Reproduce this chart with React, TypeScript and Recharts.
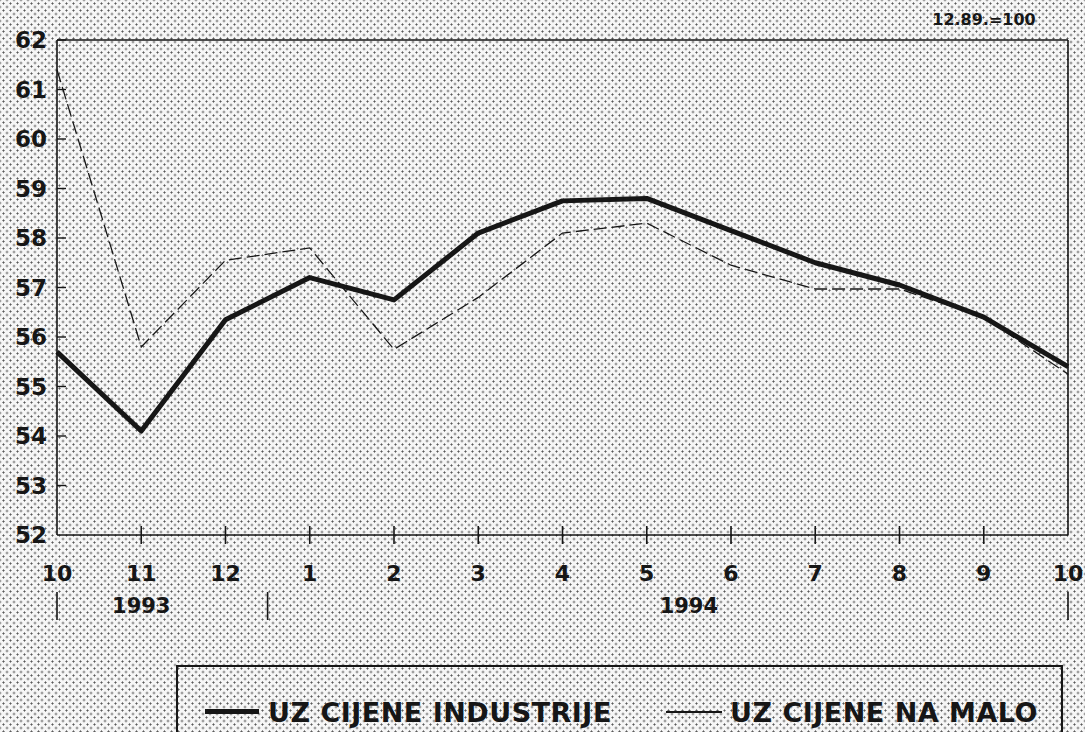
import React from "react";
import { LineChart, Line, XAxis, YAxis, ReferenceLine } from "recharts";

// months from 10/1993 to 10/1994, index 12.89 = 100
const months = ["10", "11", "12", "1", "2", "3", "4", "5", "6", "7", "8", "9", "10"];
const industry = [55.7, 54.1, 56.35, 57.2, 56.75, 58.1, 58.75, 58.8, 58.15, 57.5, 57.05, 56.4, 55.4];
const retail = [61.4, 55.8, 57.55, 57.8, 55.75, 56.8, 58.1, 58.3, 57.45, 56.97, 56.97, 56.4, 55.25];
const yTicks = [52, 53, 54, 55, 56, 57, 58, 59, 60, 61, 62];
const yearLabels = ["1993", "1994"];
const yearCenters = [1, 7.5];
const yearBreaks = [0, 2.5, 12];

const seriesNames = ["UZ CIJENE INDUSTRIJE", "UZ CIJENE NA MALO"];

const data = months.map((m, i) => ({ i, month: m, ind: industry[i], ret: retail[i] }));

const font = "'DejaVu Sans', 'Liberation Sans', Arial, sans-serif";
const ink = "#161616";

const MonthTick = (props: any) => {
  const { x, y, payload } = props;
  return (
    <g>
      {payload.value > 0 && payload.value < 12 && (
        <line x1={x} x2={x} y1={y - 9} y2={y + 9} stroke={ink} strokeWidth={1.6} />
      )}
      <text x={x} y={y + 38} textAnchor="middle" dominantBaseline="central" fontFamily={font} fontWeight="bold" fontSize={22} fill={ink}>
        {months[payload.value]}
      </text>
    </g>
  );
};

const YearTick = (props: any) => {
  const { x, y, payload } = props;
  const k = yearCenters.indexOf(payload.value);
  if (k >= 0) {
    return (
      <text x={x} y={y + 26} textAnchor="middle" dominantBaseline="central" fontFamily={font} fontWeight="bold" fontSize={21} fill={ink}>
        {yearLabels[k]}
      </text>
    );
  }
  return <line x1={x} x2={x} y1={y + 12} y2={y + 40} stroke={ink} strokeWidth={1.6} />;
};

const ValueTick = (props: any) => {
  const { x, y, payload } = props;
  return (
    <g>
      {payload.value > 52 && <line x1={x} x2={x + 9} y1={y} y2={y} stroke={ink} strokeWidth={1.4} />}
      <text x={x - 10} y={y} textAnchor="end" dominantBaseline="central" fontFamily={font} fontWeight="bold" fontSize={23} fill={ink}>
        {payload.value}
      </text>
    </g>
  );
};

const legendText: React.CSSProperties = {
  position: "absolute",
  top: 45,
  transform: "translateY(-50%)",
  fontSize: 27,
  letterSpacing: 0.5,
  fontWeight: "bold",
  color: ink,
  whiteSpace: "nowrap",
};

export default function App() {
  return (
    <div
      style={{
        position: "absolute",
        left: 0,
        top: 0,
        width: 1085,
        height: 732,
        overflow: "hidden",
        backgroundColor: "#f6f6f6",
        backgroundImage:
          "radial-gradient(circle, #5a5a5a 0.8px, transparent 1.3px), radial-gradient(circle, #5a5a5a 0.8px, transparent 1.3px)",
        backgroundSize: "7px 7px",
        backgroundPosition: "0 0, 3.5px 3.5px",
        fontFamily: font,
      }}
    >
      <LineChart width={1085} height={732} data={data} margin={{ top: 40, right: 17, bottom: 112, left: 0 }}>
        <XAxis
          dataKey="i"
          type="number"
          domain={[0, 12]}
          ticks={[0, 1, 2, 3, 4, 5, 6, 7, 8, 9, 10, 11, 12]}
          height={45}
          tickSize={0}
          tickMargin={0}
          tick={<MonthTick />}
          axisLine={{ stroke: ink, strokeWidth: 1.6 }}
          tickLine={false}
        />
        <XAxis
          xAxisId="yr"
          dataKey="i"
          type="number"
          domain={[0, 12]}
          ticks={[...yearBreaks, ...yearCenters].sort((a, b) => a - b)}
          height={40}
          tickSize={0}
          tickMargin={0}
          tick={<YearTick />}
          axisLine={false}
          tickLine={false}
        />
        <YAxis
          type="number"
          domain={[52, 62]}
          ticks={yTicks}
          width={57}
          tickSize={0}
          tickMargin={0}
          tick={<ValueTick />}
          axisLine={{ stroke: ink, strokeWidth: 1.6 }}
          tickLine={false}
        />
        <ReferenceLine y={62} stroke={ink} strokeWidth={1.6} />
        <ReferenceLine x={12} stroke={ink} strokeWidth={1.6} />
        <Line
          dataKey="ret"
          name={seriesNames[1]}
          stroke={ink}
          strokeWidth={1.3}
          strokeDasharray="13 5"
          dot={false}
          isAnimationActive={false}
        />
        <Line
          dataKey="ind"
          name={seriesNames[0]}
          stroke={ink}
          strokeWidth={5}
          strokeLinejoin="round"
          dot={false}
          isAnimationActive={false}
        />
      </LineChart>
      <div
        style={{
          position: "absolute",
          left: 984,
          top: 19,
          transform: "translate(-50%, -50%)",
          fontSize: 16,
          fontWeight: "bold",
          color: ink,
          whiteSpace: "nowrap",
        }}
      >
        12.89.=100
      </div>
      <div
        style={{
          position: "absolute",
          left: 176,
          top: 665,
          width: 887,
          height: 90,
          borderTop: `2px solid ${ink}`,
          borderLeft: `2px solid ${ink}`,
          borderRight: `2px solid ${ink}`,
          boxSizing: "border-box",
        }}
      >
        <div style={{ position: "absolute", left: 27, top: 42, width: 54, height: 5, background: ink }} />
        <div style={{ ...legendText, left: 90 }}>{seriesNames[0]}</div>
        <div style={{ position: "absolute", left: 488, top: 44, width: 56, height: 1.5, background: ink }} />
        <div style={{ ...legendText, left: 552 }}>{seriesNames[1]}</div>
      </div>
    </div>
  );
}
